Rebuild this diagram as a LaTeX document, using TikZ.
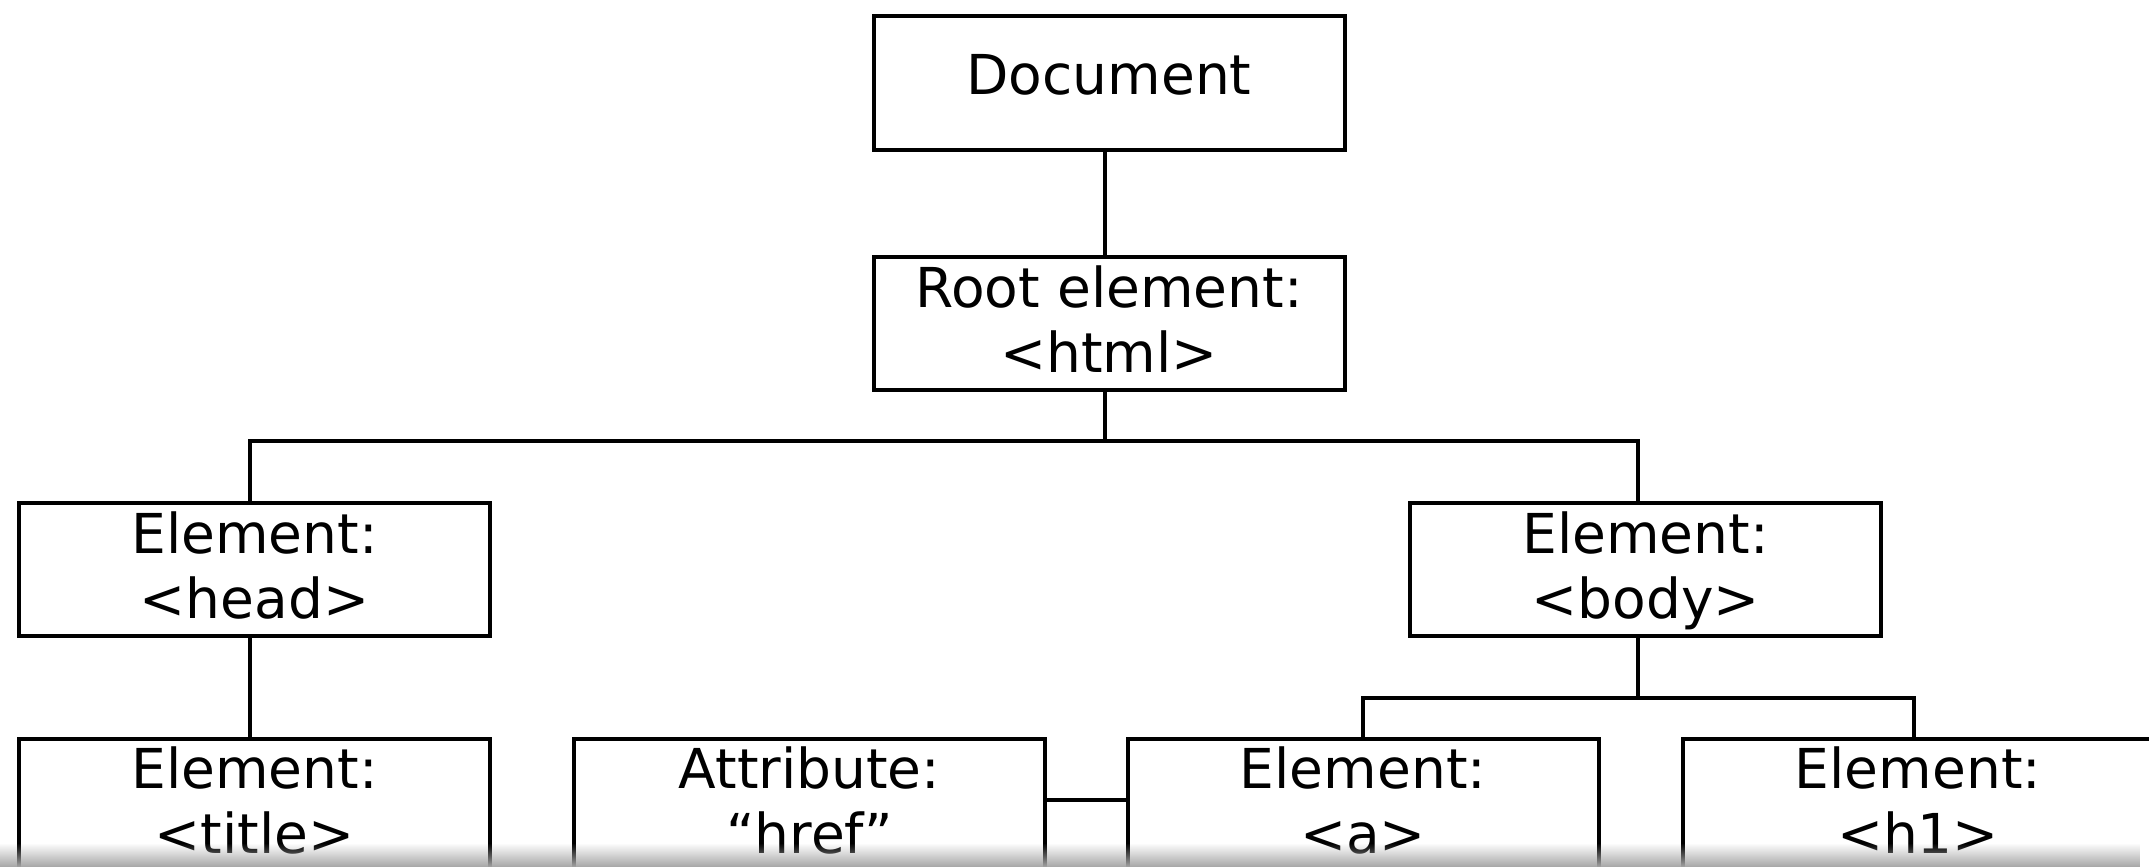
\documentclass[tikz,border=0pt]{standalone}
\usepackage{fontspec}
\setmainfont{DejaVu Sans}
\usetikzlibrary{calc}
\usetikzlibrary{fadings}
\tikzset{domnode/.style={draw, black, line width=4pt, minimum width=471pt, minimum height=133pt,
  inner sep=0pt, align=center, text depth=9pt, font=\fontsize{55}{65}\selectfont}}
\tikzset{domline/.style={black, line width=4pt}}

\begin{document}
\begin{tikzpicture} [x=1pt, y=-1pt]
\fill[white] (0,0) rectangle (2149,867);
\useasboundingbox (0,0) rectangle (2149,867);
\clip (0,0) rectangle (2149,867);
% tree of the page
\node[domnode, text depth=18pt] (doc) at (1109,83) {Document};
\node[domnode] (root) at (1109,323.5) {Root element:\\ <html>};
\node[domnode] (head) at (254.5,569.5) {Element:\\ <head>};
\node[domnode] (body) at (1645.5,569.5) {Element:\\ <body>};
\node[domnode] (title) at (254.5,805) {Element:\\ <title>};
\node[domnode] (attr) at (809.5,805) {Attribute:\\ “href”};
\node[domnode] (a) at (1363,805) {Element:\\ <a>};
\node[domnode] (h1) at (1918,805) {Element:\\ <h1>};
\coordinate (bus) at (1105,441);
\coordinate (bodybus) at (1637.5,698);
\draw[domline] ([xshift=-4pt]doc.south) -- ([xshift=-4pt]root.north);
\draw[domline] ([xshift=-4pt]root.south) -- (bus);
\draw[domline] ([xshift=-5pt]head.north) |- (bus) -| ([xshift=-8pt]body.north);
\draw[domline] ([xshift=-5pt]head.south) -- ([xshift=-5pt]title.north);
\draw[domline] ([xshift=-8pt]body.south) -- (bodybus);
\draw[domline] (a.north) |- (bodybus) -| ([xshift=-4pt]h1.north);
\draw[domline] ([yshift=5pt]attr.east) -- ([yshift=5pt]a.west);
% shadow at the lower edge
\fill[black!35, path fading=north] (0,843) rectangle (2149,867);
\end{tikzpicture}
\end{document}
